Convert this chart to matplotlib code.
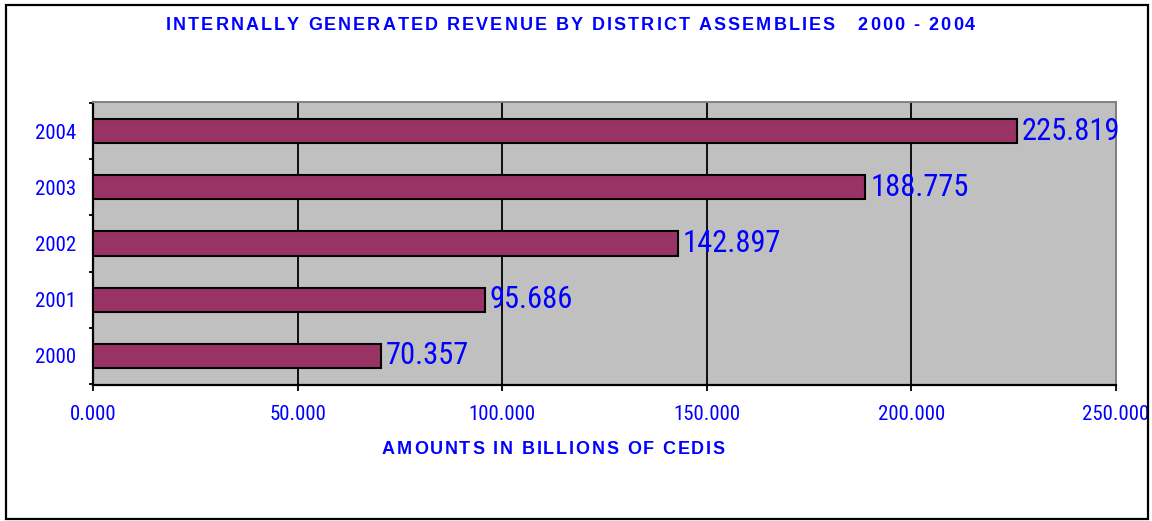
import matplotlib
matplotlib.use("Agg")
import matplotlib.pyplot as plt
from matplotlib import font_manager
from matplotlib.patches import Rectangle
from matplotlib.ticker import FixedLocator

years = ["2000", "2001", "2002", "2003", "2004"]
revenue = [70.357, 95.686, 142.897, 188.775, 225.819]
x_ticks = [0, 50, 100, 150, 200, 250]
x_tick_labels = ["0.000", "50.000", "100.000", "150.000", "200.000", "250.000"]
title_text = "INTERNALLY GENERATED REVENUE BY DISTRICT ASSEMBLIES   2000 - 2004"
xlabel_text = "AMOUNTS IN BILLIONS OF CEDIS"

BLUE = "#0000FF"
BAR = "#993366"
PANEL = "#C0C0C0"

names = {f.name for f in font_manager.fontManager.ttflist}
narrow = next((n for n in ("Roboto Condensed", "Archivo Narrow", "PT Sans Narrow",
                           "Liberation Sans") if n in names), "DejaVu Sans")
wide = "Liberation Sans" if "Liberation Sans" in names else "DejaVu Sans"

W, H, DPI = 1152, 521, 100
fig = plt.figure(figsize=(W / DPI, H / DPI), dpi=DPI)
fig.patch.set_facecolor("white")

# outer chart frame
fig.add_artist(Rectangle((6 / W, 1 - 519 / H), (1148 - 6) / W, (519 - 5) / H,
                         transform=fig.transFigure, fill=False,
                         edgecolor="black", linewidth=1.6))

ax = fig.add_axes([93 / W, 1 - 385 / H, (1116 - 93) / W, (385 - 102) / H])
ax.set_facecolor(PANEL)
ypos = list(range(len(years)))
ax.barh(ypos, revenue, height=0.43, color=BAR, edgecolor="black",
        linewidth=1.5, zorder=3)
ax.set_xlim(0, 250)
ax.set_ylim(-0.52, len(years) - 0.48)

ax.xaxis.set_major_locator(FixedLocator(x_ticks))
ax.set_xticklabels(x_tick_labels)
ax.set_yticks(ypos)
ax.set_yticklabels(years)
ax.yaxis.set_minor_locator(FixedLocator([i - 0.5 for i in range(len(years) + 1)]))

ax.grid(axis="x", color="black", linewidth=1.3, zorder=1)
ax.set_axisbelow(True)

for lab in ax.get_xticklabels() + ax.get_yticklabels():
    lab.set_fontfamily(narrow)
    lab.set_fontsize(15)
    lab.set_color(BLUE)

ax.tick_params(axis="x", which="major", direction="out", length=4.5,
               width=1.3, color="black", pad=10)
ax.tick_params(axis="y", which="major", length=0, pad=12)
ax.tick_params(axis="y", which="minor", direction="out", length=3,
               width=1.3, color="black")

for side in ("left", "bottom"):
    ax.spines[side].set_color("black")
    ax.spines[side].set_linewidth(1.6)
for side in ("top", "right"):
    ax.spines[side].set_color("#808080")
    ax.spines[side].set_linewidth(1.4)

for y, v in zip(ypos, revenue):
    ax.annotate(f"{v:.3f}", xy=(v, y), xytext=(3.5, 0),
                textcoords="offset points", ha="left", va="center",
                fontfamily=narrow, fontsize=22, color=BLUE, zorder=4)

# letter-spaced bold headings
renderer = fig.canvas.get_renderer()


def spaced_text(s, x0, x1, baseline, size):
    widths = []
    for ch in s:
        t = fig.text(0, 0, ch, fontfamily=wide, fontweight="bold",
                     fontsize=size)
        if ch == " ":
            t.set_text("n n")
            wn = fig.text(0, 0, "nn", fontfamily=wide, fontweight="bold",
                          fontsize=size)
            w = (t.get_window_extent(renderer).width
                 - wn.get_window_extent(renderer).width)
            wn.remove()
        else:
            w = t.get_window_extent(renderer).width
        t.remove()
        widths.append(w)
    gap = ((x1 - x0) - sum(widths)) / (len(s) - 1)
    x = x0
    for ch, w in zip(s, widths):
        if ch != " ":
            fig.text(x / W, 1 - baseline / H, ch, fontfamily=wide,
                     fontweight="bold", fontsize=size, color=BLUE,
                     ha="left", va="baseline")
        x += w + gap


spaced_text(title_text, 166, 975, 30.5, 13)
spaced_text(xlabel_text, 382, 725, 454, 13)

fig.savefig("out.png", dpi=DPI, facecolor="white")
